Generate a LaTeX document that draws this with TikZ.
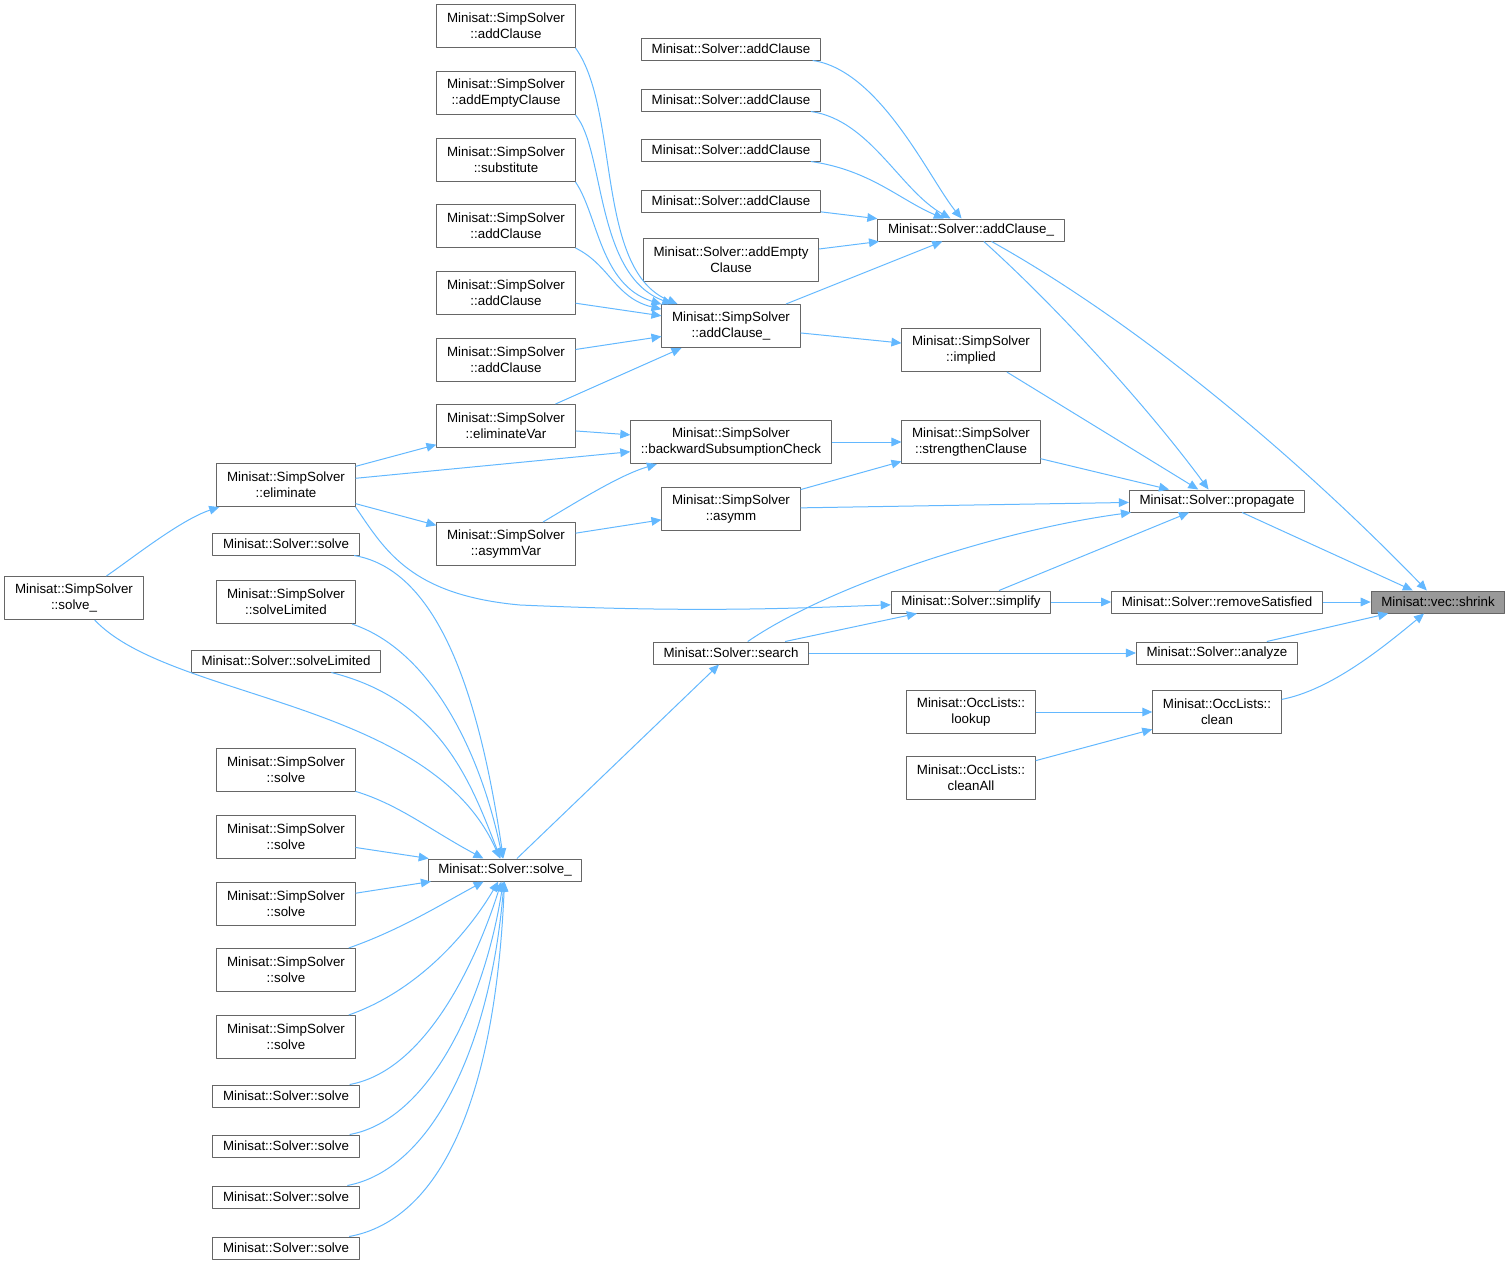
\documentclass[tikz,border=0pt]{standalone}
\usepackage{fontspec}
\setmainfont{Liberation Sans}
\usetikzlibrary{arrows.meta}
\definecolor{dxEdge}{HTML}{63B8FF}
\definecolor{dxLine}{HTML}{666666}
\definecolor{dxRoot}{HTML}{999999}
\tikzset{
 callgraph/.style={font=\fontsize{10}{12}\selectfont,line join=round},
 fn/.style={rectangle,draw=dxLine,fill=white,line width=.75pt,inner xsep=7.6pt,inner ysep=1pt,minimum height=16.5pt,align=center},
 fntwo/.style={fn,minimum height=32.3pt},
 fnroot/.style={fn,fill=dxRoot},
 call/.style={draw=dxEdge,line width=.75pt,-{Triangle[length=7.5pt,width=6.5pt]}}
}

\begin{document}
\begin{tikzpicture}[callgraph,x=.75pt,y=.75pt]
 \useasboundingbox (0,0) rectangle (1511,-1267);
 % callees
 \node[fnroot] (shrink) at (1438,-602) {Minisat::vec::shrink};
 \node[fn] (addcl) at (971,-230) {Minisat::Solver::addClause\_};
 \node[fn] (propagate) at (1217,-501) {Minisat::Solver::propagate};
 \node[fn] (remsat) at (1217,-602) {Minisat::Solver::removeSatisfied};
 \node[fn] (analyze) at (1217,-653) {Minisat::Solver::analyze};
 \node[fntwo] (clean) at (1217,-712) {Minisat::OccLists::\\clean};
 \node[fntwo] (lookup) at (971,-712) {Minisat::OccLists::\\lookup};
 \node[fntwo] (cleanall) at (971,-778) {Minisat::OccLists::\\cleanAll};
 \node[fntwo] (implied) at (971,-350) {Minisat::SimpSolver\\::implied};
 \node[fntwo] (strengthen) at (971,-442) {Minisat::SimpSolver\\::strengthenClause};
 \node[fn] (simplify) at (971,-602) {Minisat::Solver::simplify};
 \foreach \n/\y in {sac1/49,sac2/100,sac3/150,sac4/201}{\node[fn] (\n) at (731,-\y) {Minisat::Solver::addClause};}
 \node[fntwo] (addempty) at (731,-260) {Minisat::Solver::addEmpty\\Clause};
 \node[fntwo] (simpaddcl) at (731,-326) {Minisat::SimpSolver\\::addClause\_};
 \node[fntwo] (backsub) at (731,-442) {Minisat::SimpSolver\\::backwardSubsumptionCheck};
 \node[fntwo] (asymm) at (731,-509) {Minisat::SimpSolver\\::asymm};
 \node[fn] (search) at (731,-653) {Minisat::Solver::search};
 \foreach \n/\y/\f in {pac1/26/addClause,paddempty/93/addEmptyClause,psubst/160/substitute,pac2/226/addClause,pac3/293/addClause,pac4/360/addClause,elimvar/426/eliminateVar,asymmvar/544/asymmVar}{\node[fntwo] (\n) at (506,-\y) {Minisat::SimpSolver\\::\f};}
 \node[fntwo] (eliminate) at (286,-485) {Minisat::SimpSolver\\::eliminate};
 \node[fntwo] (simpsolve) at (74,-598) {Minisat::SimpSolver\\::solve\_};
 \node[fn] (slvr) at (505,-870) {Minisat::Solver::solve\_};
 % callers of solve_
 \node[fn] (so0) at (286,-544) {Minisat::Solver::solve};
 \node[fntwo] (sl1) at (286,-602) {Minisat::SimpSolver\\::solveLimited};
 \node[fn] (sl2) at (286,-661) {Minisat::Solver::solveLimited};
 \foreach \n/\y in {ss1/770,ss2/837,ss3/904,ss4/970,ss5/1037}{\node[fntwo] (\n) at (286,-\y) {Minisat::SimpSolver\\::solve};}
 \foreach \n/\y in {so1/1096,so2/1146,so3/1197,so4/1248}{\node[fn] (\n) at (286,-\y) {Minisat::Solver::solve};}

 % straight calls
 \foreach \a/\b in {propagate/shrink,remsat/shrink,analyze/shrink,sac4/addcl,addempty/addcl,simpaddcl/addcl,
   pac3/simpaddcl,pac4/simpaddcl,elimvar/simpaddcl,simpaddcl/implied,implied/propagate,elimvar/backsub,
   eliminate/elimvar,eliminate/backsub,eliminate/asymmvar,asymmvar/asymm,backsub/strengthen,asymm/strengthen,
   strengthen/propagate,asymm/propagate,simplify/propagate,simplify/remsat,search/simplify,search/analyze,
   slvr/search,lookup/clean,cleanall/clean,ss2/slvr,ss3/slvr}{\draw[call] (\a) -- (\b);}
 % curved calls
 \draw[call] (addcl) .. controls (1150,-330) and (1310,-470) .. (shrink);
 \draw[call] (clean) .. controls (1330,-690) and (1380,-650) .. (shrink);
 \draw[call] (sac1) .. controls (880,-70) and (930,-180) .. (addcl);
 \draw[call] (sac2) .. controls (870,-120) and (900,-190) .. (addcl);
 \draw[call] (sac3) .. controls (870,-170) and (900,-200) .. (addcl);
 \draw[call] (addcl) .. controls (1060,-310) and (1150,-410) .. (propagate);
 \draw[call] (pac1.south east) .. controls (620,-110) and (595,-270) .. (simpaddcl);
 \draw[call] (paddempty.south east) .. controls (605,-150) and (595,-275) .. (simpaddcl);
 \draw[call] (psubst.south east) .. controls (598,-215) and (600,-285) .. (simpaddcl);
 \draw[call] (pac2.south east) .. controls (610,-265) and (615,-298) .. (simpaddcl);
 \draw[call] (asymmvar) .. controls (580,-500) and (620,-475) .. (backsub);
 \draw[call] (search) .. controls (830,-585) and (1000,-530) .. (propagate);
 \draw[call] (eliminate.south east) .. controls (385,-550) and (410,-595) .. (520,-605) .. controls (700,-613) and (800,-608) .. (simplify);
 \draw[call] (simpsolve) .. controls (130,-560) and (180,-520) .. (eliminate);
 \draw[call] (simpsolve) .. controls (170,-700) and (430,-700) .. (slvr);
 \draw[call] (so0) .. controls (440,-570) and (480,-700) .. (slvr);
 \draw[call] (sl1) .. controls (430,-650) and (480,-750) .. (slvr);
 \draw[call] (sl2) .. controls (440,-700) and (470,-780) .. (slvr);
 \draw[call] (ss1) .. controls (400,-805) and (430,-830) .. (slvr);
 \draw[call] (ss4) .. controls (400,-930) and (440,-905) .. (slvr);
 \draw[call] (ss5) .. controls (420,-990) and (470,-930) .. (slvr);
 \draw[call] (so1) .. controls (430,-1070) and (480,-950) .. (slvr);
 \draw[call] (so2) .. controls (430,-1120) and (485,-1000) .. (slvr);
 \draw[call] (so3) .. controls (430,-1170) and (490,-1050) .. (slvr);
 \draw[call] (so4) .. controls (440,-1220) and (495,-1100) .. (slvr);
\end{tikzpicture}
\end{document}
